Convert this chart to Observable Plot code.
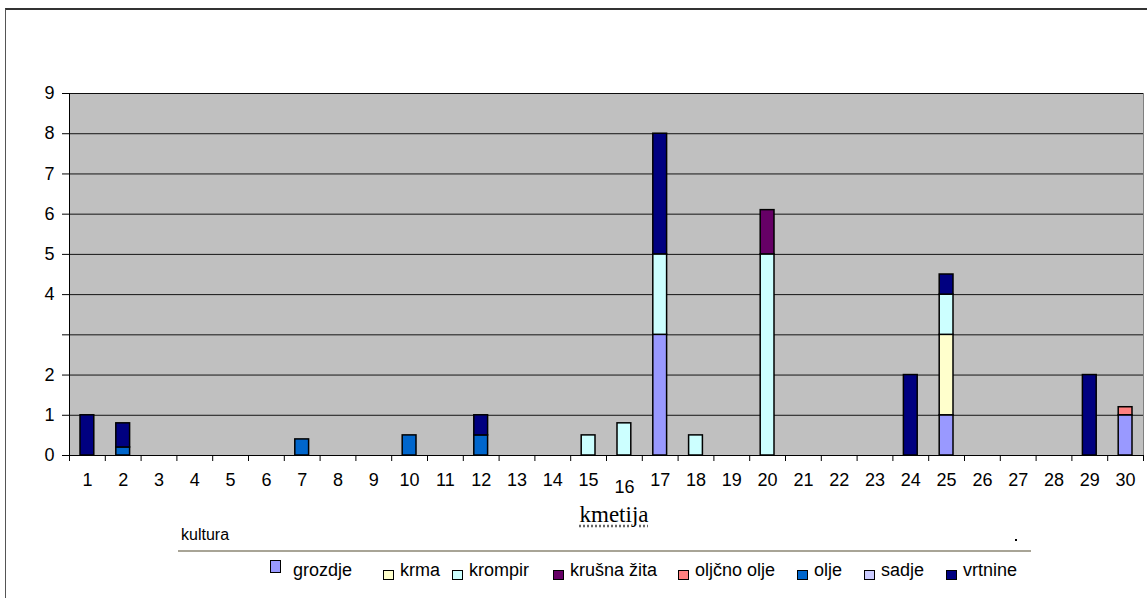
<!DOCTYPE html>
<html>
<head>
<meta charset="utf-8">
<script src="https://cdn.jsdelivr.net/npm/d3@7"></script>
<script src="https://cdn.jsdelivr.net/npm/@observablehq/plot@0.6"></script>
<style>
  html, body { margin: 0; padding: 0; background: #fff; }
  #wrap { position: relative; width: 1147px; height: 598px; overflow: hidden; background: #fff;
          font-family: "Liberation Sans", Arial, sans-serif; color: #000; }
  #border { position: absolute; left: 5px; top: 8px; width: 1300px; height: 800px;
            border-left: 1px solid #555; border-top: 2px solid #333; box-sizing: border-box; }
  #chart { position: absolute; left: 0; top: 0; }
  #xlabel { position: absolute; left: 514px; width: 200px; top: 502px; text-align: center;
            font-family: "Liberation Serif", "Times New Roman", serif; font-size: 23px;
            text-decoration: underline dotted #666; text-underline-offset: 3px; }
  #ltitle { position: absolute; left: 181px; top: 526px; font-size: 16px; }
  #lrule { position: absolute; left: 178px; top: 550px; width: 853px; height: 2px; background: #a8a496; }
  #ldot { position: absolute; left: 1015px; top: 539px; width: 2px; height: 2px; background: #000; }
  .item { position: absolute; top: 560px; height: 20px; font-size: 18px; line-height: 20px; white-space: nowrap; }
  .sw { position: absolute; left: 0; top: 10px; width: 9px; height: 8px; border: 1px solid #000; }
  .tx { position: absolute; top: 0; }
</style>
</head>
<body>
<div id="wrap">
  <div id="border"></div>
  <div id="chart"></div>
  <div id="xlabel">kmetija</div>
  <div id="ltitle">kultura</div>
  <div id="lrule"></div>
  <div id="ldot"></div>
  <div id="legend"></div>
</div>
<script>
// ---- data ----
const farms = d3.range(1, 31);
const crops = ["grozdje", "krma", "krompir", "krušna žita", "oljčno olje", "olje", "sadje", "vrtnine"];
const cropColors = ["#9999FF", "#FFFFCC", "#CCFFFF", "#660066", "#FF8080", "#0066CC", "#CCCCFF", "#000080"];
//                 1  2    3 4 5 6 7    8 9 10   11 12   13 14 15   16   17 18   19 20   21 22 23 24 25   26 27 28 29 30
const grozdje    = [0, 0,   0,0,0,0,0,  0,0,0,   0, 0,   0, 0, 0,   0,   3, 0,   0, 0,   0, 0, 0, 0, 1,   0, 0, 0, 0, 1];
const krma       = [0, 0,   0,0,0,0,0,  0,0,0,   0, 0,   0, 0, 0,   0,   0, 0,   0, 0,   0, 0, 0, 0, 2,   0, 0, 0, 0, 0];
const krompir    = [0, 0,   0,0,0,0,0,  0,0,0,   0, 0,   0, 0, 0.5, 0.8, 2, 0.5, 0, 5,   0, 0, 0, 0, 1,   0, 0, 0, 0, 0];
const krusnaZita = [0, 0,   0,0,0,0,0,  0,0,0,   0, 0,   0, 0, 0,   0,   0, 0,   0, 1.1, 0, 0, 0, 0, 0,   0, 0, 0, 0, 0];
const oljcnoOlje = [0, 0,   0,0,0,0,0,  0,0,0,   0, 0,   0, 0, 0,   0,   0, 0,   0, 0,   0, 0, 0, 0, 0,   0, 0, 0, 0, 0.2];
const olje       = [0, 0.2, 0,0,0,0,0.4,0,0,0.5, 0, 0.5, 0, 0, 0,   0,   0, 0,   0, 0,   0, 0, 0, 0, 0,   0, 0, 0, 0, 0];
const sadje      = [0, 0,   0,0,0,0,0,  0,0,0,   0, 0,   0, 0, 0,   0,   0, 0,   0, 0,   0, 0, 0, 0, 0,   0, 0, 0, 0, 0];
const vrtnine    = [1, 0.6, 0,0,0,0,0,  0,0,0,   0, 0.5, 0, 0, 0,   0,   3, 0,   0, 0,   0, 0, 0, 2, 0.5, 0, 0, 0, 2, 0];
const series = [grozdje, krma, krompir, krusnaZita, oljcnoOlje, olje, sadje, vrtnine];
const yTicks = [0, 1, 2, 3, 4, 5, 6, 7, 8, 9];
const yTickLabels = ["0", "1", "2", "", "4", "5", "6", "7", "8", "9"];

// ---- table ----
const rows = [];
crops.forEach((c, i) => series[i].forEach((v, j) => { if (v > 0) rows.push({farm: farms[j], crop: c, value: v}); }));

const chart = Plot.plot({
  width: 1147,
  height: 500,
  marginLeft: 69,
  marginRight: 4,
  marginTop: 93,
  marginBottom: 45,
  style: {fontFamily: "'Liberation Sans', Arial, sans-serif", fontSize: "18px", background: "transparent", color: "#000", overflow: "visible"},
  x: {type: "linear", domain: [0.5, 30.5]},
  y: {domain: [0, 9]},
  color: {domain: crops, range: cropColors},
  marks: [
    Plot.frame({fill: "#c0c0c0", stroke: "#808080"}),
    Plot.gridY(yTicks, {stroke: "#000", strokeOpacity: 0.9}),
    Plot.axisY(yTicks, {tickSize: 7, tickPadding: 8, fontSize: 18, tickFormat: d => yTickLabels[yTicks.indexOf(d)], label: null}),
    Plot.axisX(d3.range(0.5, 31, 1), {tickSize: 6, tickFormat: () => "", label: null}),
    Plot.text(farms.filter(f => f !== 16), {x: d => d, frameAnchor: "bottom", dy: 30, fontSize: 18}),
    Plot.text(farms.filter(f => f === 16), {x: d => d, frameAnchor: "bottom", dy: 37, fontSize: 18}),
    Plot.rectY(rows, {x1: d => d.farm - 0.5, x2: d => d.farm + 0.5, y: "value", fill: "crop",
      stroke: "#000", strokeWidth: 1.5, insetLeft: 11, insetRight: 11}),
    Plot.ruleX([0.5], {stroke: "#000"}),
    Plot.ruleY([0], {stroke: "#000"})
  ]
});
document.getElementById("chart").append(chart);

// ---- legend ----
const legendX = [270, 383, 452, 553, 678, 797, 864, 946];
const legend = document.getElementById("legend");
crops.forEach((c, i) => {
  const it = document.createElement("div");
  it.className = "item";
  it.style.left = legendX[i] + "px";
  const sw = document.createElement("span");
  sw.className = "sw";
  sw.style.background = cropColors[i];
  const tx = document.createElement("span");
  tx.className = "tx";
  tx.style.left = "17px";
  if (i === 0) { sw.style.top = "0px"; sw.style.height = "11px"; tx.style.left = "23px"; }
  tx.textContent = c;
  it.append(sw, tx);
  legend.append(it);
});
</script>
</body>
</html>
